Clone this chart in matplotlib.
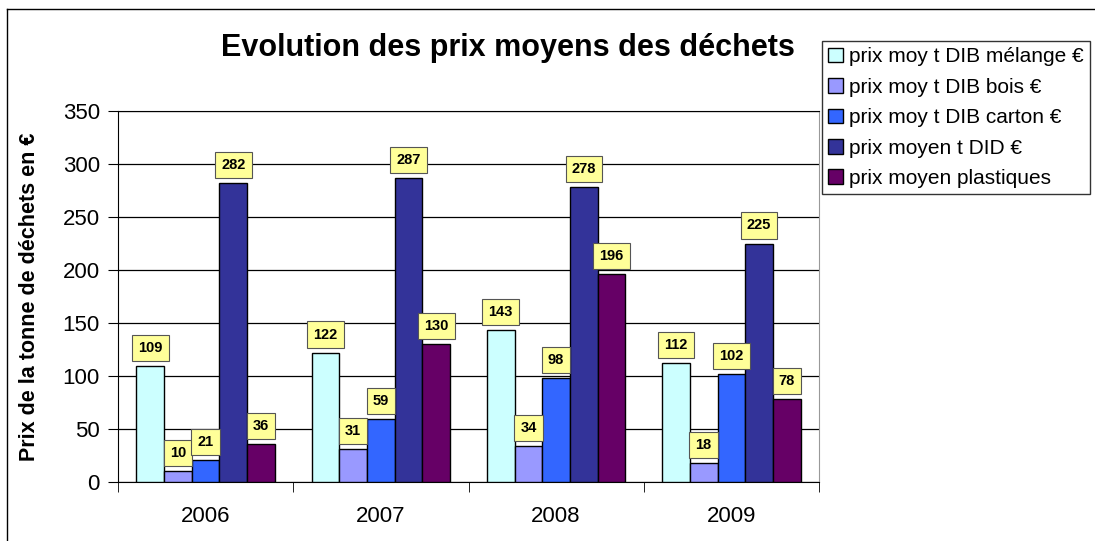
import matplotlib.pyplot as plt
import numpy as np
from matplotlib.lines import Line2D

plt.rcParams['font.family'] = ['Liberation Sans', 'DejaVu Sans']

# Données
annees = ['2006', '2007', '2008', '2009']
series = ['prix moy t DIB mélange €', 'prix moy t DIB bois €', 'prix moy t DIB carton €',
          'prix moyen t DID €', 'prix moyen plastiques']
dib_melange = [109, 122, 143, 112]
dib_bois = [10, 31, 34, 18]
dib_carton = [21, 59, 98, 102]
did = [282, 287, 278, 225]
plastiques = [36, 130, 196, 78]
couleurs = ['#CCFFFF', '#9999FF', '#3366FF', '#333399', '#660066']

valeurs = [dib_melange, dib_bois, dib_carton, did, plastiques]

fig = plt.figure(figsize=(10.95, 5.41), dpi=100)
ax = fig.add_axes([118 / 1095, 1 - 482 / 541, (819 - 118) / 1095, (482 - 111) / 541])

x = np.arange(len(annees))
larg = 0.158
for i, (vals, nom, c) in enumerate(zip(valeurs, series, couleurs)):
    pos = x + (i - 2) * larg
    ax.bar(pos, vals, larg, color=c, edgecolor='black', linewidth=1, label=nom, zorder=3)
    for px, v in zip(pos, vals):
        ax.annotate(str(v), (px, v), xytext=(0, 8), textcoords='offset points',
                    ha='center', va='bottom', fontsize=10.5, fontweight='bold', zorder=5,
                    bbox=dict(boxstyle='square,pad=0.42', fc='#FFFF99', ec='#555555', lw=0.8))

ax.set_xlim(-0.5, 3.5)
ax.set_ylim(0, 350)
ax.set_yticks(range(0, 351, 50))
ax.yaxis.grid(True, color='black', linewidth=0.9, zorder=0)
ax.set_axisbelow(True)
ax.set_xticks(x)
ax.set_xticklabels(annees)
ax.set_xticks(np.arange(-0.5, 4, 1), minor=True)
ax.tick_params(axis='x', which='major', length=0, labelsize=16, pad=17)
ax.tick_params(axis='x', which='minor', length=7, direction='out')
ax.tick_params(axis='y', labelsize=16, length=7, pad=6)
ax.spines['right'].set_color('#999999')
ax.spines['top'].set_color('black')
ax.set_ylabel('Prix de la tonne de déchets en €', fontsize=15.5, fontweight='bold')
ax.yaxis.set_label_coords(-0.111, 0.5)

fig.text(508 / 1095, 1 - 48 / 541, 'Evolution des prix moyens des déchets', ha='center',
         va='center', fontsize=22, fontweight='bold')

leg = fig.legend(loc='upper left', bbox_to_anchor=(822 / 1095, 1 - 41 / 541), fontsize=15,
                 frameon=True, fancybox=False, edgecolor='black', handlelength=0.7,
                 handleheight=0.7, handletextpad=0.3, labelspacing=0.55, borderpad=0.3,
                 borderaxespad=0)
leg.get_frame().set_linewidth(1)

# cadre extérieur
fig.add_artist(Line2D([7 / 1095, 7 / 1095], [0, 1 - 9 / 541], color='black', lw=1,
                      transform=fig.transFigure))
fig.add_artist(Line2D([7 / 1095, 1], [1 - 9 / 541, 1 - 9 / 541], color='black', lw=1,
                      transform=fig.transFigure))

fig.savefig('out.png', dpi=100)
